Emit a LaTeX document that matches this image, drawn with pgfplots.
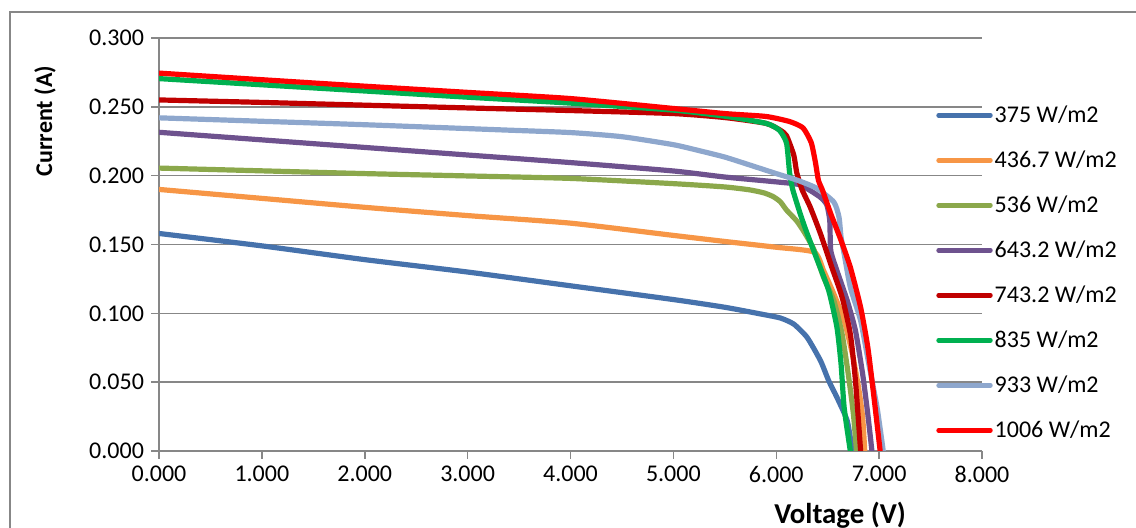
\documentclass[border=0pt]{standalone}
\usepackage{pgfplots}
\pgfplotsset{compat=1.18}
\usepackage{fontspec}
\setmainfont{Carlito}
\definecolor{cBlue}{HTML}{4672AC}
\definecolor{cOrange}{HTML}{F79646}
\definecolor{cOlive}{HTML}{8BA84B}
\definecolor{cPurple}{HTML}{6E528E}
\definecolor{cDRed}{HTML}{C00000}
\definecolor{cGreen}{HTML}{00B050}
\definecolor{cLBlue}{HTML}{8EA7CD}
\definecolor{cRed}{HTML}{FF0000}
\definecolor{cGrid}{HTML}{878787}
\begin{document}
\begin{tikzpicture}
\useasboundingbox (0,0) rectangle (568pt,264pt);
\draw[cGrid, line width=0.6pt] (5pt,-30pt) -- (5pt,258pt) -- (600pt,258pt);
\begin{axis}[
  at={(79.5pt,38.5pt)}, anchor=south west,
  scale only axis, width=411.5pt, height=206.5pt,
  xmin=0, xmax=8, ymin=0, ymax=0.3,
  xtick={0,1,...,8}, ytick={0,0.05,...,0.3},
  axis x line*=bottom, axis y line*=left,
  axis line style={cGrid, line width=0.75pt},
  tick style={cGrid, line width=0.75pt},
  major tick length=4pt, tick align=outside,
  ymajorgrids, grid style={cGrid, line width=0.75pt},
  tick label style={font=\fontsize{12}{14}\selectfont},
  /pgf/number format/.cd, fixed, fixed zerofill, precision=3, assume math mode=true,
  /pgfplots/.cd,
  scaled y ticks=false, scaled x ticks=false,
  every axis plot/.append style={line width=2.6pt, line join=round, line cap=round, smooth, tension=0.35},
  legend cell align=left,
  legend style={at={(0.944,0.868)}, anchor=north west, draw=none, fill=none, inner sep=0pt,
    row sep=0pt, column sep=0pt,
    nodes={font=\fontsize{12}{14}\selectfont, minimum height=22.5pt, inner ysep=0pt, inner xsep=1pt}},
  legend image code/.code={\draw[#1, line width=2.2pt, line cap=round, smooth=false] (0pt,0pt) -- (26pt,0pt);},
]
\addplot[cBlue] coordinates {(0,0.158) (1,0.149) (2,0.139) (3,0.130) (4,0.120) (5.0,0.110) (5.5,0.1044) (5.85,0.0995) (6.04,0.0966) (6.17,0.0922) (6.30,0.0825) (6.43,0.0656) (6.51,0.051) (6.59,0.0389) (6.69,0.0219) (6.74,0.0)};
\addlegendentry{375 W/m2}
\addplot[cOrange] coordinates {(0,0.190) (1,0.1835) (2,0.177) (3,0.171) (4,0.1655) (5,0.1566) (5.5,0.1522) (6.0,0.148) (6.37,0.1444) (6.46,0.131) (6.56,0.114) (6.66,0.0947) (6.74,0.0704) (6.80,0.0461) (6.84,0.0243) (6.86,0.0)};
\addlegendentry{436.7 W/m2}
\addplot[cOlive] coordinates {(0,0.2055) (1,0.2035) (2,0.2015) (3,0.1998) (4,0.198) (5,0.1942) (5.5,0.1918) (5.74,0.1897) (5.88,0.1875) (5.97,0.1848) (6.04,0.1810) (6.10,0.175) (6.20,0.167) (6.28,0.158) (6.37,0.1456) (6.46,0.1262) (6.56,0.1092) (6.64,0.085) (6.70,0.0558) (6.75,0.0267) (6.78,0.0)};
\addlegendentry{536 W/m2}
\addplot[cPurple] coordinates {(0,0.2315) (1,0.226) (2,0.2205) (3,0.215) (4,0.2095) (5,0.2034) (5.5,0.199) (6.01,0.1954) (6.23,0.1933) (6.42,0.1848) (6.49,0.1790) (6.52,0.1675) (6.53,0.1456) (6.59,0.131) (6.69,0.1092) (6.77,0.0874) (6.84,0.0558) (6.89,0.0267) (6.93,0.0)};
\addlegendentry{643.2 W/m2}
\addplot[cDRed] coordinates {(0,0.255) (1,0.2532) (2,0.2512) (3,0.2492) (4,0.2473) (5,0.2451) (5.5,0.2422) (5.90,0.2380) (6.04,0.2330) (6.10,0.2290) (6.17,0.2150) (6.20,0.2020) (6.25,0.1900) (6.33,0.1772) (6.43,0.1578) (6.54,0.1335) (6.64,0.1117) (6.72,0.085) (6.77,0.051) (6.82,0.0)};
\addlegendentry{743.2 W/m2}
\addplot[cGreen] coordinates {(0,0.2705) (1,0.266) (2,0.2615) (3,0.257) (4,0.2527) (5,0.2476) (5.5,0.2432) (5.90,0.2380) (6.03,0.2330) (6.10,0.2236) (6.13,0.2020) (6.16,0.1900) (6.23,0.1730) (6.29,0.1600) (6.40,0.1384) (6.51,0.1165) (6.59,0.0898) (6.63,0.0631) (6.66,0.0316) (6.72,0.0)};
\addlegendentry{835 W/m2}
\addplot[cLBlue] coordinates {(0,0.242) (1,0.2395) (2,0.237) (3.31,0.2333) (4.0,0.2313) (4.5,0.2283) (5.0,0.2225) (5.26,0.2180) (5.5,0.2135) (5.74,0.2078) (6.0,0.2015) (6.2,0.1968) (6.39,0.191) (6.56,0.1808) (6.61,0.1699) (6.63,0.1553) (6.66,0.1432) (6.72,0.1189) (6.82,0.0947) (6.90,0.0631) (6.98,0.0316) (7.04,0.0)};
\addlegendentry{933 W/m2}
\addplot[cRed] coordinates {(0,0.2745) (1,0.2697) (2,0.265) (3,0.2605) (4,0.256) (5,0.2488) (5.5,0.2451) (5.90,0.2430) (6.13,0.2393) (6.26,0.2347) (6.34,0.2240) (6.38,0.2100) (6.41,0.1966) (6.45,0.1893) (6.53,0.1723) (6.63,0.1529) (6.72,0.1335) (6.82,0.1044) (6.89,0.0753) (6.95,0.0389) (7.01,0.0)};
\addlegendentry{1006 W/m2}
\end{axis}
\node[rotate=90, font=\fontsize{12}{14}\selectfont\bfseries] at (22.5pt,203.5pt) {Current (A)};
\node[anchor=base, font=\fontsize{14.4}{17}\selectfont\bfseries] at (420pt,2.25pt) {Voltage (V)};
\end{tikzpicture}
\end{document}
